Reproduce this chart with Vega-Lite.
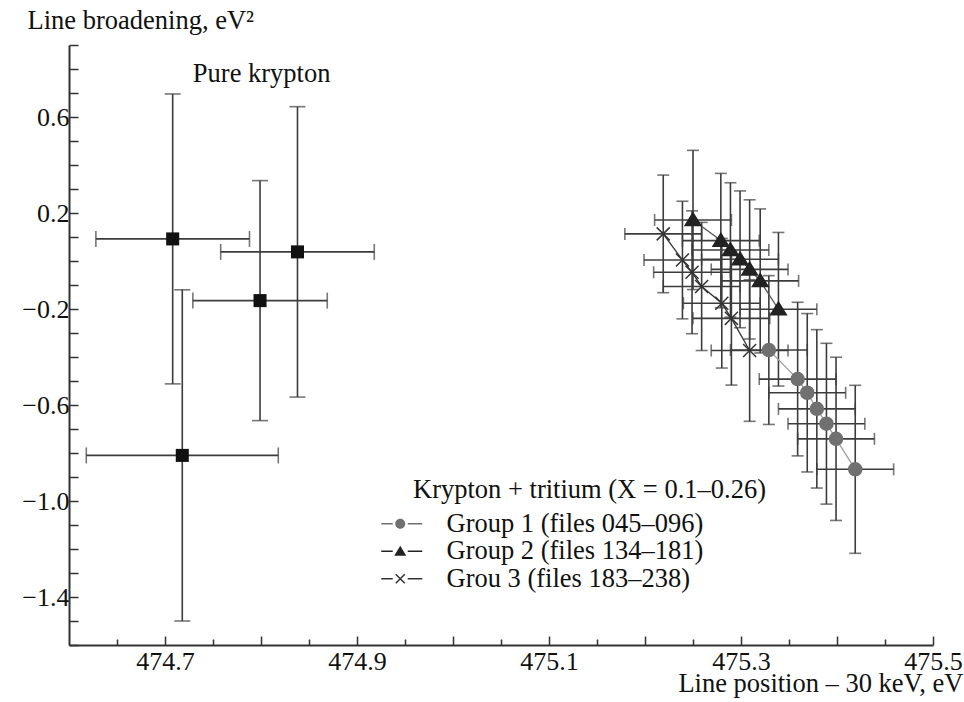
{
  "$schema": "https://vega.github.io/schema/vega-lite/v6.json",
  "width": 864,
  "height": 600,
  "autosize": {"type": "none"},
  "padding": {"left": 69, "top": 45, "right": 31, "bottom": 57},
  "background": "white",
  "config": {
    "view": {"stroke": null},
    "font": "Liberation Serif",
    "axis": {
      "labelFont": "Liberation Serif",
      "titleFont": "Liberation Serif",
      "labelFontSize": 26,
      "titleFontSize": 26.5,
      "titleFontWeight": "normal",
      "labelColor": "#111111",
      "titleColor": "#111111",
      "domainColor": "#333333",
      "domainWidth": 2,
      "tickColor": "#333333",
      "tickWidth": 1.5,
      "grid": false
    }
  },
  "datasets": {
    "kr": [
      {"x": 474.708, "y": 0.092, "ex": 0.08, "ey": 0.604},
      {"x": 474.838, "y": 0.038, "ex": 0.08, "ey": 0.605},
      {"x": 474.799, "y": -0.165, "ex": 0.07, "ey": 0.5},
      {"x": 474.718, "y": -0.81, "ex": 0.1, "ey": 0.69}
    ],
    "grp": [
      {"group": "Group 1 (files 045–096)", "x": 475.329, "y": -0.371, "ex": 0.04, "ey": 0.31},
      {"group": "Group 1 (files 045–096)", "x": 475.359, "y": -0.492, "ex": 0.04, "ey": 0.32},
      {"group": "Group 1 (files 045–096)", "x": 475.369, "y": -0.549, "ex": 0.04, "ey": 0.33},
      {"group": "Group 1 (files 045–096)", "x": 475.379, "y": -0.616, "ex": 0.04, "ey": 0.33},
      {"group": "Group 1 (files 045–096)", "x": 475.389, "y": -0.678, "ex": 0.04, "ey": 0.335},
      {"group": "Group 1 (files 045–096)", "x": 475.399, "y": -0.741, "ex": 0.04, "ey": 0.34},
      {"group": "Group 1 (files 045–096)", "x": 475.419, "y": -0.868, "ex": 0.04, "ey": 0.35},
      {"group": "Group 2 (files 134–181)", "x": 475.25, "y": 0.171, "ex": 0.04, "ey": 0.29},
      {"group": "Group 2 (files 134–181)", "x": 475.279, "y": 0.085, "ex": 0.04, "ey": 0.28},
      {"group": "Group 2 (files 134–181)", "x": 475.289, "y": 0.046, "ex": 0.04, "ey": 0.28},
      {"group": "Group 2 (files 134–181)", "x": 475.299, "y": 0.007, "ex": 0.04, "ey": 0.285},
      {"group": "Group 2 (files 134–181)", "x": 475.309, "y": -0.035, "ex": 0.04, "ey": 0.29},
      {"group": "Group 2 (files 134–181)", "x": 475.32, "y": -0.083, "ex": 0.04, "ey": 0.3},
      {"group": "Group 2 (files 134–181)", "x": 475.339, "y": -0.201, "ex": 0.04, "ey": 0.32},
      {"group": "Grou 3 (files 183–238)", "x": 475.219, "y": 0.113, "ex": 0.04, "ey": 0.245},
      {"group": "Grou 3 (files 183–238)", "x": 475.239, "y": 0.004, "ex": 0.04, "ey": 0.245},
      {"group": "Grou 3 (files 183–238)", "x": 475.249, "y": -0.047, "ex": 0.04, "ey": 0.256},
      {"group": "Grou 3 (files 183–238)", "x": 475.259, "y": -0.106, "ex": 0.04, "ey": 0.267},
      {"group": "Grou 3 (files 183–238)", "x": 475.28, "y": -0.176, "ex": 0.04, "ey": 0.27},
      {"group": "Grou 3 (files 183–238)", "x": 475.29, "y": -0.239, "ex": 0.04, "ey": 0.278},
      {"group": "Grou 3 (files 183–238)", "x": 475.309, "y": -0.373, "ex": 0.04, "ey": 0.295}
    ],
    "notes": [
      {"label": "Pure krypton", "x": 474.729, "y": 0.746}
    ]
  },
  "encoding": {
    "x": {
      "field": "x",
      "type": "quantitative",
      "scale": {"domain": [474.6, 475.5], "nice": false, "zero": false},
      "axis": {
        "values": [474.65, 474.7, 474.75, 474.8, 474.85, 474.9, 474.95, 475, 475.05, 475.1, 475.15, 475.2, 475.25, 475.3, 475.35, 475.4, 475.45, 475.5],
        "format": ".2~f",
        "labelExpr": "round(datum.value*100) % 20 == 10 ? datum.label : ''",
        "tickSize": {"condition": {"test": "round(datum.value*100) % 10 == 0", "value": -9}, "value": -6},
        "labelPadding": 12,
        "labelFlush": false,
        "labelOverlap": false,
        "title": "Line position – 30 keV, eV",
        "titleX": 894,
        "titleY": 46,
        "titleAlign": "right",
        "titleBaseline": "alphabetic",
        "titleAngle": 0
      }
    },
    "y": {
      "field": "y",
      "type": "quantitative",
      "scale": {"domain": [-1.6, 0.9], "nice": false, "zero": false},
      "axis": {
        "values": [-1.6, -1.5, -1.4, -1.3, -1.2, -1.1, -1.0, -0.9, -0.8, -0.7, -0.6, -0.5, -0.4, -0.3, -0.2, -0.1, 0, 0.1, 0.2, 0.3, 0.4, 0.5, 0.6, 0.7, 0.8, 0.9],
        "format": ".1f",
        "labelExpr": "abs(round(datum.value*10)) % 4 == 2 ? datum.label : ''",
        "tickSize": -9,
        "labelPadding": 9,
        "labelFlush": false,
        "labelOverlap": false,
        "title": "Line broadening, eV²",
        "titleAngle": 0,
        "titleX": -42,
        "titleY": -17,
        "titleAlign": "left",
        "titleBaseline": "alphabetic"
      }
    }
  },
  "layer": [
    {
      "data": {"name": "kr"},
      "mark": {"type": "errorbar", "color": "#3c3c3c", "thickness": 1.6, "ticks": {"size": 16}},
      "encoding": {"yError": {"field": "ey"}}
    },
    {
      "data": {"name": "kr"},
      "mark": {"type": "errorbar", "color": "#3c3c3c", "thickness": 1.6, "ticks": {"size": 16}},
      "encoding": {"xError": {"field": "ex"}}
    },
    {
      "data": {"name": "kr"},
      "mark": {"type": "square", "size": 170, "color": "#111111", "opacity": 1}
    },
    {
      "data": {"name": "grp"},
      "mark": {"type": "errorbar", "color": "#3c3c3c", "thickness": 1.6, "ticks": {"size": 12}},
      "encoding": {"yError": {"field": "ey"}}
    },
    {
      "data": {"name": "grp"},
      "mark": {"type": "errorbar", "color": "#3c3c3c", "thickness": 1.6, "ticks": {"size": 12}},
      "encoding": {"xError": {"field": "ex"}}
    },
    {
      "data": {"name": "grp"},
      "mark": {"type": "line", "strokeWidth": 1.3},
      "encoding": {
        "stroke": {
          "field": "group",
          "type": "nominal",
          "scale": {"domain": ["Group 1 (files 045–096)", "Group 2 (files 134–181)", "Grou 3 (files 183–238)"], "range": ["#a0a0a0", "#555555", "#333333"]},
          "legend": null
        }
      }
    },
    {
      "data": {"name": "grp"},
      "mark": {"type": "point", "filled": true, "size": 170, "strokeWidth": 1.5, "opacity": 1},
      "encoding": {
        "shape": {
          "field": "group",
          "type": "nominal",
          "scale": {"domain": ["Group 1 (files 045–096)", "Group 2 (files 134–181)", "Grou 3 (files 183–238)"], "range": ["circle", "M0,-1.1L1.2,0.85L-1.2,0.85Z", "M-1,-1L1,1M1,-1L-1,1"]},
          "legend": null
        },
        "fill": {
          "field": "group",
          "type": "nominal",
          "scale": {"domain": ["Group 1 (files 045–096)", "Group 2 (files 134–181)", "Grou 3 (files 183–238)"], "range": ["#707070", "#222222", "#333333"]},
          "legend": null
        },
        "stroke": {
          "field": "group",
          "type": "nominal",
          "scale": {"domain": ["Group 1 (files 045–096)", "Group 2 (files 134–181)", "Grou 3 (files 183–238)"], "range": ["#707070", "#222222", "#333333"]},
          "legend": null
        }
      }
    },
    {
      "data": {"name": "grp"},
      "mark": {"type": "point", "filled": true, "size": 100, "opacity": 0},
      "encoding": {
        "shape": {
          "field": "group",
          "type": "nominal",
          "scale": {
            "domain": ["Group 1 (files 045–096)", "Group 2 (files 134–181)", "Grou 3 (files 183–238)"],
            "range": [
              "M-9,-0.15L-6.7,-0.15L-6.7,0.15L-9,0.15ZM-3.7,-0.15L-0.8,-0.15L-0.8,0.15L-3.7,0.15ZM-6.2,0A1,1,0,1,1,-4.2,0A1,1,0,1,1,-6.2,0Z",
              "M-9,-0.15L-6.7,-0.15L-6.7,0.15L-9,0.15ZM-3.7,-0.15L-0.8,-0.15L-0.8,0.15L-3.7,0.15ZM-5.2,-1.1L-4,0.9L-6.4,0.9Z",
              "M-9,-0.15L-6.7,-0.15L-6.7,0.15L-9,0.15ZM-3.7,-0.15L-0.8,-0.15L-0.8,0.15L-3.7,0.15ZM-5.994,-1.006L-4.194,0.794L-4.406,1.006L-6.206,-0.794ZM-4.194,-0.794L-5.994,1.006L-6.206,0.794L-4.406,-1.006Z"
            ]
          },
          "legend": {
            "orient": "none",
            "legendX": 344,
            "legendY": 432,
            "padding": 0,
            "title": "Krypton + tritium (X = 0.1–0.26)",
            "titleFont": "Liberation Serif",
            "titleFontSize": 26.5,
            "titleFontWeight": "normal",
            "titleColor": "#111111",
            "titleAnchor": "start",
            "titlePadding": 7,
            "titleLimit": 600,
            "labelFont": "Liberation Serif",
            "labelFontSize": 26.5,
            "labelColor": "#111111",
            "labelOffset": 7,
            "labelLimit": 600,
            "symbolSize": 100,
            "symbolStrokeWidth": 0,
            "symbolOpacity": 1,
            "rowPadding": 0.5
          }
        },
        "fill": {
          "field": "group",
          "type": "nominal",
          "scale": {"domain": ["Group 1 (files 045–096)", "Group 2 (files 134–181)", "Grou 3 (files 183–238)"], "range": ["#707070", "#222222", "#333333"]},
          "legend": null
        }
      }
    },
    {
      "data": {"name": "notes"},
      "mark": {"type": "text", "font": "Liberation Serif", "fontSize": 26.5, "align": "left", "baseline": "alphabetic", "color": "#111111"},
      "encoding": {"text": {"field": "label"}}
    }
  ],
  "resolve": {"scale": {"stroke": "independent", "shape": "independent", "fill": "independent"}}
}
